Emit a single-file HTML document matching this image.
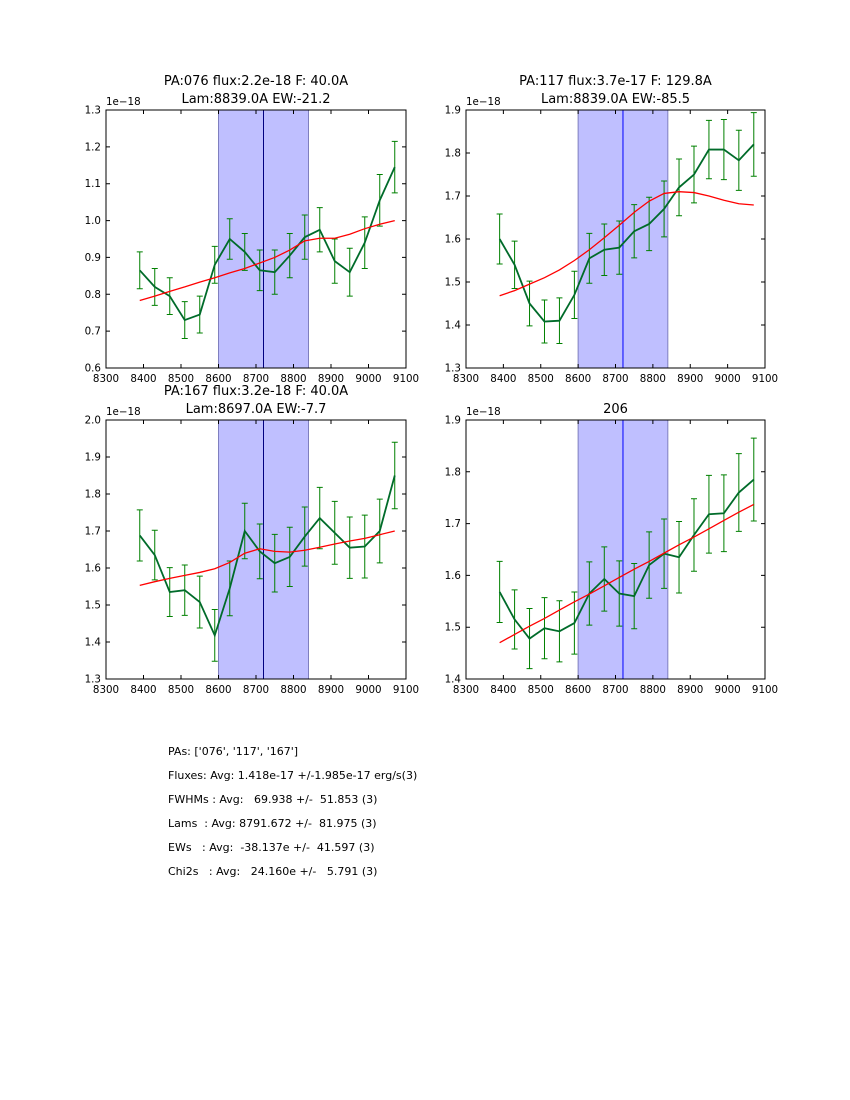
<!DOCTYPE html>
<html><head><meta charset="utf-8"><style>
body{margin:0;background:#fff;width:850px;height:1100px;overflow:hidden;font-family:"DejaVu Sans","Liberation Sans",sans-serif}
svg{position:absolute;left:0;top:0}
.st{position:absolute;left:168px;font-size:11px;white-space:pre;color:#000}
</style></head><body>
<svg id="chart" width="850" height="1100"></svg>
<div class="st" style="top:745px">PAs: ['076', '117', '167']</div>
<div class="st" style="top:769px">Fluxes: Avg: 1.418e-17 +/-1.985e-17 erg/s(3)</div>
<div class="st" style="top:793px">FWHMs : Avg:   69.938 +/-  51.853 (3)</div>
<div class="st" style="top:817px">Lams  : Avg: 8791.672 +/-  81.975 (3)</div>
<div class="st" style="top:841px">EWs   : Avg:  -38.137e +/-  41.597 (3)</div>
<div class="st" style="top:865px">Chi2s   : Avg:   24.160e +/-   5.791 (3)</div>
<script>
const wav=[8390,8430,8470,8510,8550,8590,8630,8670,8710,8750,8790,8830,8870,8910,8950,8990,9030,9070];
const xTicks=[8300,8400,8500,8600,8700,8800,8900,9000,9100];
const flux1=[0.865,0.82,0.795,0.73,0.745,0.88,0.95,0.915,0.865,0.86,0.905,0.955,0.975,0.89,0.86,0.94,1.055,1.145];
const err1=[0.05,0.05,0.05,0.05,0.05,0.05,0.055,0.05,0.055,0.06,0.06,0.06,0.06,0.06,0.065,0.07,0.07,0.07];
const model1=[0.783,0.795,0.808,0.82,0.833,0.845,0.858,0.87,0.885,0.9,0.92,0.945,0.952,0.952,0.963,0.978,0.99,1.0];
const flux2=[1.60,1.54,1.45,1.408,1.41,1.47,1.555,1.575,1.58,1.618,1.635,1.67,1.72,1.75,1.808,1.808,1.783,1.82];
const err2=[0.058,0.055,0.052,0.05,0.053,0.055,0.058,0.06,0.062,0.062,0.062,0.065,0.066,0.066,0.068,0.07,0.07,0.074];
const model2=[1.468,1.48,1.495,1.51,1.528,1.55,1.575,1.603,1.632,1.662,1.688,1.706,1.71,1.708,1.70,1.69,1.682,1.679];
const flux3=[1.688,1.635,1.535,1.54,1.508,1.418,1.545,1.70,1.645,1.613,1.63,1.685,1.735,1.695,1.655,1.658,1.70,1.85];
const err3=[0.069,0.067,0.066,0.068,0.07,0.07,0.074,0.075,0.074,0.078,0.08,0.08,0.083,0.085,0.083,0.085,0.086,0.09];
const model3=[1.553,1.563,1.572,1.58,1.588,1.598,1.615,1.64,1.652,1.645,1.643,1.648,1.656,1.665,1.673,1.68,1.69,1.70];
const flux4=[1.568,1.515,1.478,1.498,1.492,1.508,1.565,1.593,1.565,1.56,1.62,1.642,1.635,1.678,1.718,1.72,1.76,1.785];
const err4=[0.059,0.057,0.058,0.059,0.059,0.06,0.061,0.062,0.063,0.063,0.064,0.067,0.069,0.07,0.075,0.074,0.075,0.08];
const model4=[1.47,1.486,1.502,1.517,1.533,1.549,1.564,1.58,1.596,1.612,1.627,1.643,1.659,1.674,1.69,1.706,1.722,1.737];
const yTicks1=[0.6,0.7,0.8,0.9,1.0,1.1,1.2,1.3];
const yTicks2=[1.3,1.4,1.5,1.6,1.7,1.8,1.9];
const yTicks3=[1.3,1.4,1.5,1.6,1.7,1.8,1.9,2.0];
const yTicks4=[1.4,1.5,1.6,1.7,1.8,1.9];
const bandLo=8600, bandHi=8840, lineCenter=8720;
const NS='http://www.w3.org/2000/svg';
const svg=document.getElementById('chart');
function mk(tag,attrs,parent,text){const e=document.createElementNS(NS,tag);for(const k in attrs)e.setAttribute(k,attrs[k]);if(text!==undefined)e.textContent=text;(parent||svg).appendChild(e);return e;}
const panels=[
 {x:106,y:110,w:300,h:258,flux:flux1,err:err1,model:model1,yt:yTicks1,t1:'PA:076 flux:2.2e-18 F: 40.0A',t2:'Lam:8839.0A EW:-21.2',name:'panel-pa076',vc:'#000080'},
 {x:466,y:110,w:299,h:258,flux:flux2,err:err2,model:model2,yt:yTicks2,t1:'PA:117 flux:3.7e-17 F: 129.8A',t2:'Lam:8839.0A EW:-85.5',name:'panel-pa117',vc:'#0000ff'},
 {x:106,y:420,w:300,h:259,flux:flux3,err:err3,model:model3,yt:yTicks3,t1:'PA:167 flux:3.2e-18 F: 40.0A',t2:'Lam:8697.0A EW:-7.7',name:'panel-pa167',vc:'#000080'},
 {x:466,y:420,w:299,h:259,flux:flux4,err:err4,model:model4,yt:yTicks4,t1:null,t2:'206',name:'panel-206',vc:'#0000ff'}
];
panels.forEach(p=>{
 const g=mk('g',{});
 
 
 const x0=xTicks[0],x1=xTicks[xTicks.length-1],y0=p.yt[0],y1=p.yt[p.yt.length-1];
 const sx=v=>p.x+(v-x0)/(x1-x0)*p.w;
 const sy=v=>p.y+p.h-(v-y0)/(y1-y0)*p.h;
 const band=mk('rect',{x:sx(bandLo),y:p.y,width:sx(bandHi)-sx(bandLo),height:p.h,fill:'#bfbfff',stroke:'#7f7fbf','stroke-width':1},g);
 
 
 const vl=mk('line',{x1:sx(lineCenter),x2:sx(lineCenter),y1:p.y,y2:p.y+p.h,stroke:p.vc,'stroke-width':1},g);
 
 
 wav.forEach((w,i)=>{
  const X=sx(w),a=sy(p.flux[i]+p.err[i]),b=sy(p.flux[i]-p.err[i]);
  const eb=mk('path',{d:`M${X},${a}V${b}M${X-3},${a}H${X+3}M${X-3},${b}H${X+3}`,stroke:'#008000','stroke-width':1,fill:'none'},g);
  
  
 });
 const fl=mk('polyline',{points:wav.map((w,i)=>sx(w)+','+sy(p.flux[i])).join(' '),fill:'none',stroke:'#006b2a','stroke-width':1.8},g);
 
 
 const ml=mk('polyline',{points:wav.map((w,i)=>sx(w)+','+sy(p.model[i])).join(' '),fill:'none',stroke:'#ff0000','stroke-width':1.3},g);
 
 
 const fr=mk('rect',{x:p.x,y:p.y,width:p.w,height:p.h,fill:'none',stroke:'#000','stroke-width':1},g);
 
 
 xTicks.forEach(t=>{const X=sx(t);
  mk('path',{d:`M${X},${p.y+p.h}v-4M${X},${p.y}v4`,stroke:'#000'},g);
  const tl=mk('text',{x:X,y:p.y+p.h+14,'font-size':10.3,'text-anchor':'middle'},g,String(t));
  
  
 });
 p.yt.forEach(t=>{const Y=sy(t);
  mk('path',{d:`M${p.x},${Y}h4M${p.x+p.w},${Y}h-4`,stroke:'#000'},g);
  const tl=mk('text',{x:p.x-5,y:Y+3.5,'font-size':10.3,'text-anchor':'end'},g,t.toFixed(1));
  
  
 });
 const off=mk('text',{x:p.x,y:p.y-5,'font-size':10.3},g,'1e\u221218');
 
 
 const cx=p.x+p.w/2;
 if(p.t1){const t=mk('text',{x:cx,y:p.y-25,'font-size':13,'text-anchor':'middle'},g,p.t1);
  
  }
 const t2=mk('text',{x:cx,y:p.y-7,'font-size':13,'text-anchor':'middle'},g,p.t2);
 
 
});
</script>
</body></html>
